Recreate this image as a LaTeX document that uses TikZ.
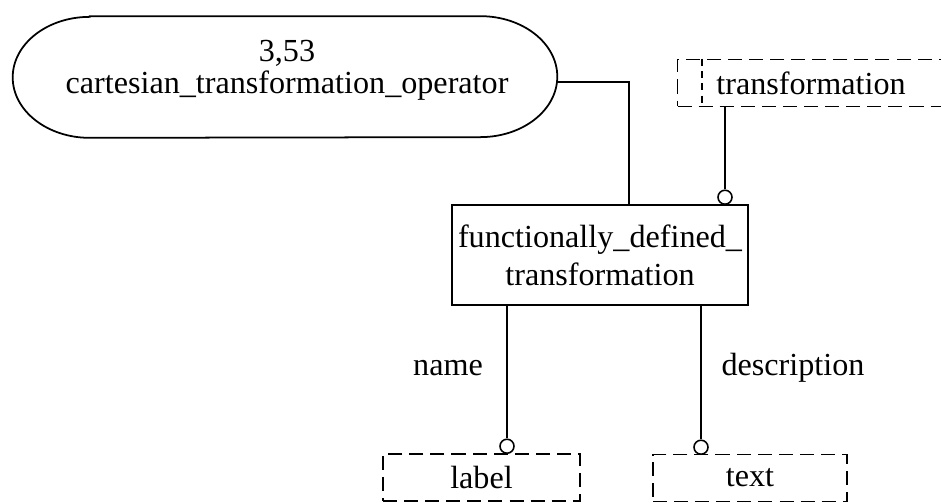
\documentclass[tikz,border=0pt]{standalone}
\usepackage{fontspec}
\setmainfont{Liberation Serif}
\usetikzlibrary{positioning}

\tikzset{
  stadium/.style={minimum width=10.88cm, minimum height=2.42cm},
  entity/.style={draw, line width=1pt, minimum width=5.68cm, minimum height=2cm,
    align=center, font=\fontsize{18.3}{21.5}\selectfont},
  reftype/.style={draw, line width=0.9pt, dash pattern=on 8pt off 4pt,
    minimum height=0.94cm},
  plain/.style={font=\fontsize{18.3}{18}\selectfont, align=center, inner sep=0pt},
  link/.style={line width=0.9pt},
  supertype/.style={line width=1.6pt},
  ring/.style={circle, draw, line width=0.9pt, fill=white, inner sep=0pt,
    minimum size=0.28cm}
}

\begin{document}
\begin{tikzpicture}[x=0.02cm, y=-0.02cm]
  \clip (0,0) rectangle (941,503);
  \fill[white] (0,0) rectangle (941,503);

  % supertype
  \node[stadium] (cto) at (285,77) {};
  \draw[line width=1pt] ([xshift=1.54cm]cto.north west) -- ([xshift=-1.54cm]cto.north east)
    arc[start angle=90, end angle=-90, x radius=1.54cm, y radius=1.21cm]
    -- ([xshift=1.54cm]cto.south west)
    arc[start angle=270, end angle=90, x radius=1.54cm, y radius=1.21cm] -- cycle;
  \node[plain] (ctotext) at (287,70) {3,53\\cartesian\_transformation\_operator};

  % entity
  \node[entity] (fdt) at (600,255) {functionally\_defined\_\\transformation};

  % referenced types
  \node[reftype, minimum width=6.5cm] (trf) at (840,83) {};
  \node[plain] (trftext) at (811,83) {transformation};
  \draw[link, dash pattern=on 4pt off 3pt] ([xshift=0.5cm]trf.north west) -- ([xshift=0.5cm]trf.south west);
  \node[reftype, minimum width=3.94cm] (lbl) at (481.5,477.5) {\fontsize{18.3}{20}\selectfont label};
  \node[reftype, minimum width=3.88cm] (txt) at (750,478) {\fontsize{18.3}{20}\selectfont text};

  % rings
  \node[ring, anchor=south] (r1) at (725,205) {};
  \node[ring, anchor=south] (r2) at (507,454) {};
  \node[ring, anchor=south] (r3) at (701,455) {};

  % connectors
  \draw[supertype] ([yshift=-0.1cm]cto.east) -| ([xshift=0.58cm]fdt.north);
  \draw[link] (r1) -- (r1 |- trf.south);
  \draw[link] (r2 |- fdt.south) -- (r2);
  \draw[link] (r3 |- fdt.south) -- (r3);

  % attribute names
  \node[plain] (nm) at (448,368) {name};
  \node[plain] (ds) at (793,368) {description};
\end{tikzpicture}
\end{document}
